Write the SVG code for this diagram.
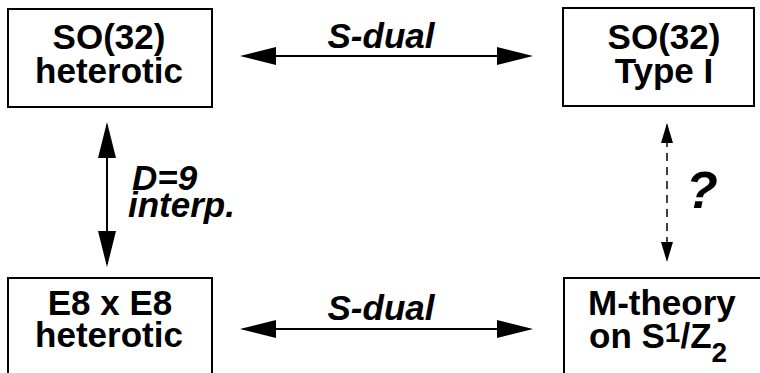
<svg xmlns="http://www.w3.org/2000/svg" width="760" height="373" viewBox="0 0 760 373">
<style>
.box{fill:#fff;stroke:#000;stroke-width:2}
.t{font-family:"Liberation Sans",Arial,sans-serif;font-weight:bold;font-size:35px;fill:#000}
.c{text-anchor:middle}
.i{font-style:italic}
.q{font-size:52px}
.sm{font-size:28px}
.solid{stroke:#000;stroke-width:2;fill:none}
.dash{stroke:#000;stroke-width:1.5;fill:none;stroke-dasharray:8,6}
</style>
<defs>
<marker id="big" markerUnits="userSpaceOnUse" markerWidth="36" markerHeight="18" refX="33" refY="9" orient="auto-start-reverse" viewBox="0 0 36 18">
<path d="M0,0 L36,9 L0,18 z" fill="#000"/>
</marker>
<marker id="small" markerUnits="userSpaceOnUse" markerWidth="20" markerHeight="12" refX="18" refY="6" orient="auto-start-reverse" viewBox="0 0 20 12">
<path d="M0,0 L20,6 L0,12 z" fill="#000"/>
</marker>
</defs>
<g id="so32het">
<rect class="box" x="8" y="9" width="204" height="98"/>
<text class="t c" x="109" y="49">SO(32)<tspan x="109" dy="34">heterotic</tspan></text>
</g>
<g id="so32typeI">
<rect class="box" x="563" y="8" width="191" height="98"/>
<text class="t c" x="664" y="49">SO(32)<tspan x="664" dy="34">Type I</tspan></text>
</g>
<g id="e8het">
<rect class="box" x="8" y="278" width="204" height="110"/>
<text class="t c" x="110" y="315">E8 x E8<tspan x="109" dy="32">heterotic</tspan></text>
</g>
<g id="mtheory">
<rect class="box" x="564" y="278" width="200" height="110"/>
<text class="t" x="588" y="315">M-theory<tspan x="589" dy="33">on S</tspan><tspan class="sm" dy="-6">1</tspan><tspan dy="6">/Z</tspan><tspan class="sm" dy="14">2</tspan></text>
</g>
<g id="connectors">
<line class="solid" x1="243" y1="56" x2="530" y2="56" marker-start="url(#big)" marker-end="url(#big)"/>
<line class="solid" x1="243" y1="329" x2="530" y2="329" marker-start="url(#big)" marker-end="url(#big)"/>
<line class="solid" x1="107" y1="125" x2="107" y2="264" marker-start="url(#big)" marker-end="url(#big)"/>
<line class="dash" x1="667" y1="125" x2="667" y2="260" marker-start="url(#small)" marker-end="url(#small)"/>
<text class="t c i" x="381" y="48">S-dual</text>
<text class="t c i" x="381" y="320">S-dual</text>
<text class="t i" x="132" y="190">D=9<tspan x="128" dy="27">interp.</tspan></text>
<text class="t i q" x="686" y="208">?</text>
</g>
</svg>
